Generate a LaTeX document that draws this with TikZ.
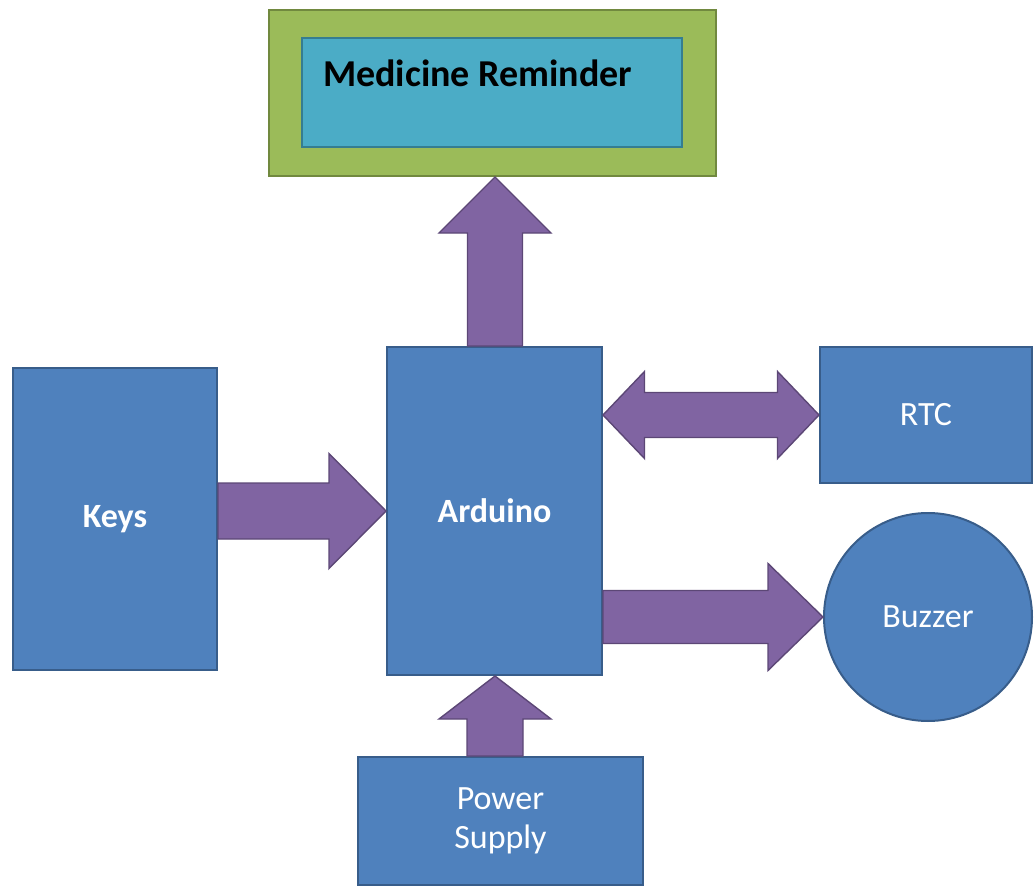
\documentclass[tikz,border=0pt]{standalone}
\usepackage{fontspec}
\setmainfont{Carlito}
\usetikzlibrary{calc}
\definecolor{boxblue}{HTML}{4F81BD}
\definecolor{boxblueline}{HTML}{385D8A}
\definecolor{arrpurple}{HTML}{8064A2}
\definecolor{arrpurpleline}{HTML}{5C4776}
\definecolor{dispgreen}{HTML}{9BBB59}
\definecolor{dispgreenline}{HTML}{71893F}
\definecolor{dispcyan}{HTML}{4BACC6}
\definecolor{dispcyanline}{HTML}{357D91}
\tikzset{
  block/.style={draw=boxblueline, fill=boxblue, line width=2pt, text=white, font=\fontsize{34}{39}\selectfont, align=center, inner sep=0pt},
  boldblock/.style={block, font=\fontsize{34}{39}\selectfont\bfseries},
  fatarrow/.style={draw=arrpurpleline, fill=arrpurple, line width=1.4pt, line join=miter},
}
% horizontal block arrow pointing right: tail, tip, half shaft, half head, head length
\newcommand{\hblockarrow}[5]{%
  \path[fatarrow] ($(#1)+(0,-#3)$) -- ($(#2)+(-#5,-#3)$) -- ($(#2)+(-#5,-#4)$) -- (#2)
    -- ($(#2)+(-#5,#4)$) -- ($(#2)+(-#5,#3)$) -- ($(#1)+(0,#3)$) -- cycle;}
% vertical block arrow pointing up (y axis runs downward)
\newcommand{\vblockarrow}[5]{%
  \path[fatarrow] ($(#1)+(-#3,0)$) -- ($(#2)+(-#3,#5)$) -- ($(#2)+(-#4,#5)$) -- (#2)
    -- ($(#2)+(#4,#5)$) -- ($(#2)+(#3,#5)$) -- ($(#1)+(#3,0)$) -- cycle;}
% double horizontal block arrow: left tip, right tip, half shaft, half head, head length
\newcommand{\dblockarrow}[5]{%
  \path[fatarrow] (#1) -- ($(#1)+(#5,-#4)$) -- ($(#1)+(#5,-#3)$) -- ($(#2)+(-#5,-#3)$)
    -- ($(#2)+(-#5,-#4)$) -- (#2) -- ($(#2)+(-#5,#4)$) -- ($(#2)+(-#5,#3)$)
    -- ($(#1)+(#5,#3)$) -- ($(#1)+(#5,#4)$) -- cycle;}
\begin{document}
\begin{tikzpicture}[x=1pt,y=-1pt]
\useasboundingbox (0,0) rectangle (1034,888);
% display
\node[draw=dispgreenline, fill=dispgreen, line width=2pt, minimum width=447pt, minimum height=166pt, inner sep=0pt] (disp) at (492.5,93) {};
\node[draw=dispcyanline, fill=dispcyan, line width=2pt, minimum width=380pt, minimum height=109pt, inner sep=0pt] (screen) at (492,92.5) {};
\node[anchor=base west, inner sep=0pt, font=\fontsize{38}{44}\selectfont\bfseries, text=black] (title) at (323,87) {Medicine Reminder};
% blocks
\node[boldblock, minimum width=215pt, minimum height=328pt] (arduino) at (494.5,511) {Arduino};
\node[boldblock, minimum width=204pt, minimum height=302pt] (keys) at (115,519) {Keys};
\node[block, minimum width=212pt, minimum height=136pt] (rtc) at (926,415) {RTC};
\node[block, circle, minimum size=208pt] (buzzer) at (928,617) {Buzzer};
\node[block, minimum width=285pt, minimum height=128pt] (power) at (500.5,821) {Power\\Supply};
% arrows
\coordinate (upbase) at ($(arduino.north)+(0.5,0)$);
\coordinate (uptip) at (upbase |- disp.south);
\vblockarrow{upbase}{uptip}{27.5}{56}{56}
\hblockarrow{keys.east |- arduino.west}{arduino.west}{28}{57.5}{57}
\dblockarrow{arduino.east |- rtc.west}{rtc.west}{22.5}{43.5}{41.5}
\hblockarrow{arduino.east |- buzzer.west}{buzzer.west}{26.5}{53.5}{55}
\coordinate (pwtip) at ($(arduino.south)+(0.5,0)$);
\coordinate (pwbase) at (pwtip |- power.north);
\vblockarrow{pwbase}{pwtip}{28}{56}{43}
\end{tikzpicture}
\end{document}
